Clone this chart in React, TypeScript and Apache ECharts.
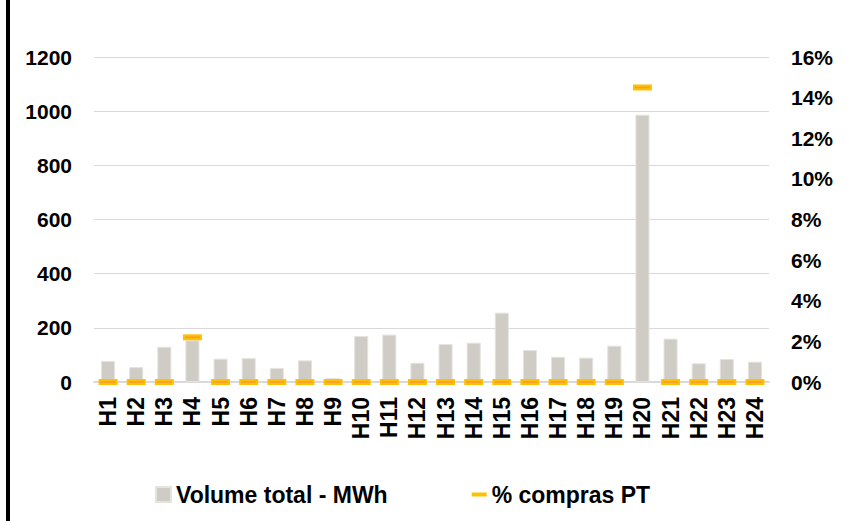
import React, { useEffect, useRef } from "react";
import * as echarts from "echarts";

const categories = [
  "H1", "H2", "H3", "H4", "H5", "H6", "H7", "H8", "H9", "H10", "H11", "H12",
  "H13", "H14", "H15", "H16", "H17", "H18", "H19", "H20", "H21", "H22", "H23", "H24",
];
const volumeMWh = [78, 55, 130, 154, 86, 88, 52, 80, 15, 170, 175, 71, 140, 145, 256, 118, 93, 90, 134, 987, 160, 69, 85, 75];
const comprasPT = [0, 0, 0, 2.2, 0, 0, 0, 0, 0, 0, 0, 0, 0, 0, 0, 0, 0, 0, 0, 14.5, 0, 0, 0, 0];

const seriesNames = ["Volume total - MWh", "% compras PT"];
const leftAxis = { min: 0, max: 1200, interval: 200 };
const rightAxis = { min: 0, max: 16, interval: 2 };

const FONT = "'Liberation Sans', Arial, sans-serif";

export default function App() {
  const ref = useRef<HTMLDivElement>(null);
  useEffect(() => {
    if (!ref.current) return;
    const chart = echarts.init(ref.current, null, { renderer: "svg" });
    chart.setOption({
      animation: false,
      backgroundColor: "#ffffff",
      textStyle: { fontFamily: FONT },
      grid: { left: 94, right: 91, top: 57, bottom: 139, containLabel: false },
      graphic: [
        { type: "rect", left: 6, top: 0, shape: { width: 4, height: 521 }, style: { fill: "#000000" } },
      ],
      legend: {
        left: 150,
        top: 478,
        itemGap: 84,
        itemWidth: 15,
        itemHeight: 15,
        symbolKeepAspect: true,
        textStyle: { fontFamily: FONT, fontWeight: "bold", fontSize: 23, color: "#000" },
        data: [
          { name: seriesNames[0], icon: "rect" },
          { name: seriesNames[1], icon: "path://M0,0H15V4H0Z" },
        ],
      },
      xAxis: {
        type: "category",
        data: categories,
        axisLine: { show: true, lineStyle: { color: "#d9d9d9", width: 2 } },
        axisTick: { show: false },
        axisLabel: {
          rotate: 90,
          margin: 15,
          interval: 0,
          fontFamily: FONT,
          fontWeight: "bold",
          fontSize: 23,
          color: "#000",
        },
      },
      yAxis: [
        {
          type: "value",
          ...leftAxis,
          axisLine: { show: false },
          axisTick: { show: false },
          splitLine: { show: true, lineStyle: { color: "#d9d9d9", width: 1 } },
          axisLabel: {
            margin: 22,
            fontFamily: FONT,
            fontWeight: "bold",
            fontSize: 21,
            color: "#000",
            formatter: (v: number) => `${v}`,
          },
        },
        {
          type: "value",
          ...rightAxis,
          position: "right",
          axisLine: { show: false },
          axisTick: { show: false },
          splitLine: { show: false },
          axisLabel: {
            margin: 22,
            fontFamily: FONT,
            fontWeight: "bold",
            fontSize: 21,
            color: "#000",
            formatter: (v: number) => `${v}%`,
          },
        },
      ],
      series: [
        {
          name: seriesNames[0],
          type: "bar",
          data: volumeMWh,
          barWidth: "50%",
          itemStyle: { color: "#cfcbc5", borderColor: "#e6e3df", borderWidth: 1 },
          z: 2,
        },
        {
          name: seriesNames[1],
          type: "scatter",
          yAxisIndex: 1,
          data: comprasPT,
          symbol: "rect",
          symbolSize: [19, 6],
          itemStyle: { color: "#ffc000", opacity: 1 },
          z: 3,
        },
        {
          name: "inner",
          type: "scatter",
          yAxisIndex: 1,
          data: comprasPT,
          symbol: "rect",
          symbolSize: [15, 1.5],
          itemStyle: { color: "#f29a3c", opacity: 1 },
          silent: true,
          z: 4,
        },
      ],
    });
    return () => chart.dispose();
  }, []);
  return <div ref={ref} style={{ position: "fixed", left: 0, top: 0, width: 860, height: 521 }} />;
}
